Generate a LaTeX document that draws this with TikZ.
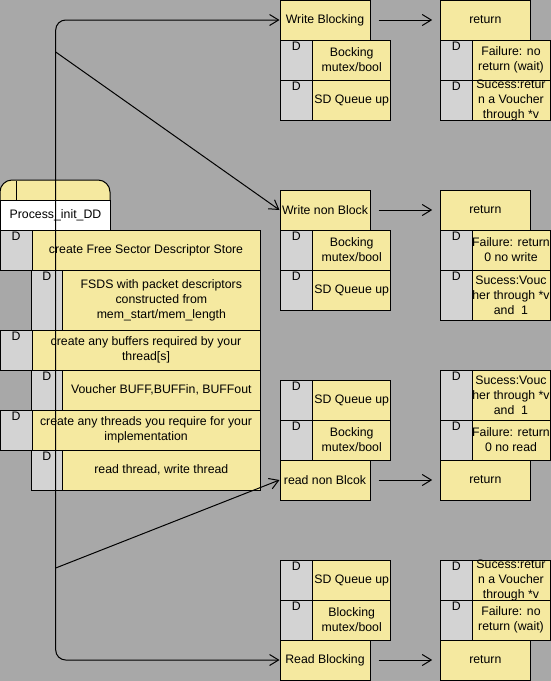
\documentclass[tikz,border=0pt]{standalone}
\usepackage{fontspec}
\setmainfont{Liberation Sans}
\usetikzlibrary{arrows.meta,calc}
\definecolor{bg}{HTML}{A8A8A8}
\definecolor{yel}{HTML}{F5E9A0}
\definecolor{dgray}{HTML}{D3D3D3}
\tikzset{
  bd/.style={draw=black, line width=1pt},
  txt/.style={font=\fontsize{12.3}{15}\selectfont, align=center, inner sep=0pt, text=black},
  dlab/.style={font=\fontsize{12.3}{14}\selectfont, inner sep=1pt, anchor=north},
  act/.style={bd, fill=yel, rectangle, minimum height=40, font=\fontsize{12.3}{14}\selectfont, inner sep=0pt},
  conn/.style={draw=black, line width=1pt, -{Straight Barb[length=9pt,width=11pt,line width=1pt]}},
}
% #1 name, #2 x1, #3 y1, #4 xd, #5 x2, #6 y2, #7 text
\newcommand\mkrow[7]{%
  \fill[dgray] (#2,#3) rectangle (#4,#6);
  \fill[yel] (#4,#3) rectangle (#5,#6);
  \draw[bd] (#2,#3) rectangle (#5,#6);
  \draw[bd] (#4,#3) -- (#4,#6);
  \node[dlab] (#1d) at ($(#2,#3)!0.5!(#4,#3)+(0,1)$) {D};
  \node[txt] (#1) at ($(#4,#3)!0.5!(#5,#6)$) {#7};
}
\begin{document}
\begin{tikzpicture}[x=1pt,y=-1pt]
\fill[bg] (0,0) rectangle (551,681);
\useasboundingbox (0,0) rectangle (551,681);

% ---- left process block ----
\draw[bd, fill=yel, rounded corners=12pt] (0,230) -- (0,180) -- (110,180) -- (110,230);
\draw[bd, fill=white] (0,200) rectangle (110,230);
\draw[bd] (16,181) -- (16,200);
\node[txt] (proc) at (55.5,215) {Process\_init\_DD};

\mkrow{r1}{0}{230}{32}{260}{270}{create Free Sector Descriptor Store}
\mkrow{r2}{31}{270}{62.7}{260}{330}{FSDS with packet descriptors\\constructed from\\mem\_start/mem\_length}
\mkrow{r3}{0}{330}{32}{260}{370}{create any buffers required by your\\thread[s]}
\mkrow{r4}{31}{370}{62.7}{260}{410}{Voucher BUFF,BUFFin, BUFFout}
\mkrow{r5}{0}{410}{32}{260}{450}{create any threads you require for your\\implementation}
\mkrow{r6}{31}{450}{62.7}{260}{490}{read thread, write thread}

% ---- Write Blocking ----
\node[act, minimum width=90] (wb) at (325,20) {Write Blocking};
\mkrow{wba}{280}{40}{312.7}{390.7}{80}{Bocking\\mutex/bool}
\mkrow{wbb}{280}{80}{312.7}{390.7}{120}{SD Queue up}
\node[act, minimum width=89.3] (wbr) at (485.35,20) {return};
\mkrow{wbra}{440.7}{40}{472}{550}{80}{Failure: no\\return (wait)}
\mkrow{wbrb}{440.7}{80}{472}{550}{120}{Sucess:retur\\n a Voucher\\through *v}

% ---- Write non Block ----
\node[act, minimum width=90] (wnb) at (325,210) {Write non Block};
\mkrow{wnba}{280}{230}{312.7}{390.7}{270}{Bocking\\mutex/bool}
\mkrow{wnbb}{280}{270}{312.7}{390.7}{310}{SD Queue up}
\node[act, minimum width=89.3] (wnbr) at (485.35,210) {return};
\mkrow{wnbra}{440.7}{230}{472}{550}{270}{Failure: return\\0 no write}
\mkrow{wnbrb}{440.7}{270}{472}{550}{320}{Sucess:Vouc\\her through *v\\and\ \ 1}

% ---- read non Blcok ----
\mkrow{rnba}{280}{380}{312.7}{390.7}{420}{SD Queue up}
\mkrow{rnbb}{280}{420}{312.7}{390.7}{460}{Bocking\\mutex/bool}
\node[act, minimum width=90] (rnb) at (325,480) {read non Blcok};
\mkrow{rnbra}{440.7}{370}{472}{550}{420}{Sucess:Vouc\\her through *v\\and\ \ 1}
\mkrow{rnbrb}{440.7}{420}{472}{550}{460}{Failure: return\\0 no read}
\node[act, minimum width=89.3] (rnbr) at (485.35,480) {return};

% ---- Read Blocking ----
\mkrow{rba}{280}{560}{312.7}{390.7}{600}{SD Queue up}
\mkrow{rbb}{280}{600}{312.7}{390.7}{640}{Blocking\\mutex/bool}
\node[act, minimum width=90] (rb) at (325,660) {Read Blocking};
\mkrow{rbra}{440.7}{560}{472}{550}{600}{Sucess:retur\\n a Voucher\\through *v}
\mkrow{rbrb}{440.7}{600}{472}{550}{640}{Failure: no\\return (wait)}
\node[act, minimum width=89.3] (rbr) at (485.35,660) {return};

% ---- connectors ----
\coordinate (spA) at (55.7,300);
\coordinate (b1) at (55.7,52);
\coordinate (b2) at (55.7,568);
\draw[conn, rounded corners=10pt] (spA) |- (wb.west);
\draw[conn, rounded corners=10pt] (spA) |- (rb.west);
\draw[conn] (b1) -- (wnb.west);
\draw[conn] (b2) -- (rnb.west);

\draw[conn, shorten <=8pt, shorten >=8pt] (wb) -- (wbr);
\draw[conn, shorten <=8pt, shorten >=8pt] (wnb) -- (wnbr);
\draw[conn, shorten <=8pt, shorten >=8pt] (rnb) -- (rnbr);
\draw[conn, shorten <=8pt, shorten >=8pt] (rb) -- (rbr);
\end{tikzpicture}
\end{document}
